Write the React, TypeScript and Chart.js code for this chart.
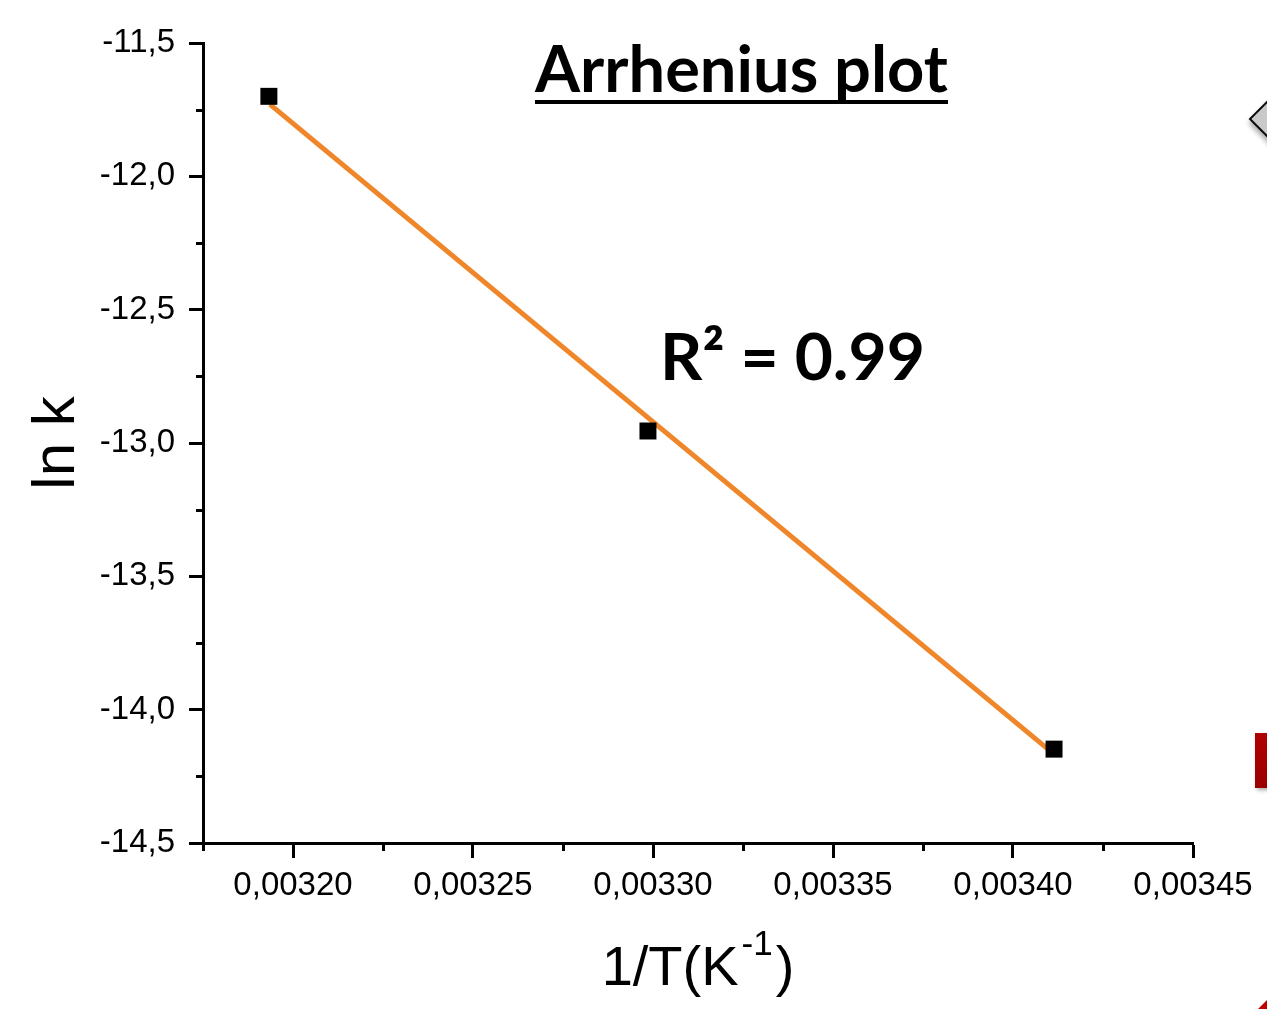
import React, { useEffect, useRef } from 'react';
import { Chart, registerables } from 'chart.js';

Chart.register(...registerables);

// ---- data ----
const invTemperature = [0.0031933, 0.0032986, 0.0034114];
const lnK = [-11.7, -12.955, -14.148];
const fitInvTemperature = [0.0031936, 0.0034108];
const fitLnK = [-11.73, -14.16];

const xTickValues = [0.0032, 0.00325, 0.0033, 0.00335, 0.0034, 0.00345];
const xTickLabels = ['0,00320', '0,00325', '0,00330', '0,00335', '0,00340', '0,00345'];
const xMinorTickValues = [0.003175, 0.003225, 0.003275, 0.003325, 0.003375, 0.003425];
const yTickValues = [-14.5, -14, -13.5, -13, -12.5, -12, -11.5];
const yTickLabels = ['-14,5', '-14,0', '-13,5', '-13,0', '-12,5', '-12,0', '-11,5'];
const yMinorTickValues = [-14.25, -13.75, -13.25, -12.75, -12.25, -11.75];

const xRange = [0.003175, 0.00345];
const yRange = [-14.5, -11.5];

const titleText = 'Arrhenius plot';
const rSquaredText = 'R² = 0.99';
const xTitleMain = '1/T(K';
const xTitleSup = '-1';
const xTitleClose = ')';
const yTitleText = 'ln k';

// ---- styles ----
const W = 1267;
const H = 1009;
const ARIAL = '"Liberation Sans", Arial, sans-serif';
const CALIBRI = 'Lato, "Open Sans", sans-serif';
const ORANGE = '#F0862A';

function fitFont(ctx: CanvasRenderingContext2D, text: string, family: string, targetWidth: number) {
  ctx.font = `bold 100px ${family}`;
  const w = ctx.measureText(text).width;
  return (100 * targetWidth) / w;
}

const overlayPlugin = {
  id: 'overlay',
  afterDraw(chart: any) {
    const { ctx, chartArea, scales } = chart;
    const xs = scales.x;
    const ys = scales.y;
    ctx.save();
    ctx.strokeStyle = '#000';
    ctx.lineWidth = 3;
    ctx.lineCap = 'butt';
    // minor ticks
    ctx.beginPath();
    xMinorTickValues.forEach((v) => {
      const px = Math.round(xs.getPixelForValue(v)) + 0.5;
      ctx.moveTo(px, chartArea.bottom);
      ctx.lineTo(px, chartArea.bottom + 8);
    });
    yMinorTickValues.forEach((v) => {
      const py = Math.round(ys.getPixelForValue(v)) + 0.5;
      ctx.moveTo(chartArea.left, py);
      ctx.lineTo(chartArea.left - 7, py);
    });
    ctx.stroke();

    ctx.fillStyle = '#000';
    ctx.textBaseline = 'alphabetic';
    ctx.textAlign = 'left';

    // title, underlined
    const tLeft = 535;
    const tWidth = 413;
    const tBase = 92;
    const tSize = fitFont(ctx, titleText, CALIBRI, tWidth);
    ctx.font = `bold ${tSize}px ${CALIBRI}`;
    ctx.fillText(titleText, tLeft, tBase);
    ctx.fillRect(tLeft, tBase + 8, tWidth, 4);

    // R squared
    const rSize = fitFont(ctx, rSquaredText, CALIBRI, 265);
    ctx.font = `bold ${rSize}px ${CALIBRI}`;
    ctx.fillText(rSquaredText, 660, 380);

    // x axis title with superscript
    const mainFont = `56px ${ARIAL}`;
    const supFont = `35px ${ARIAL}`;
    ctx.font = mainFont;
    const w1 = ctx.measureText(xTitleMain).width;
    const w3 = ctx.measureText(xTitleClose).width;
    ctx.font = supFont;
    const w2 = ctx.measureText(xTitleSup).width;
    const gap = 3;
    const total = w1 + gap + w2 + gap + w3;
    const cx = (chartArea.left + chartArea.right) / 2;
    let x = cx - total / 2;
    const base = chart.height - 24;
    ctx.font = mainFont;
    ctx.fillText(xTitleMain, x, base);
    x += w1 + gap;
    ctx.font = supFont;
    ctx.fillText(xTitleSup, x, base - 30);
    x += w2 + gap;
    ctx.font = mainFont;
    ctx.fillText(xTitleClose, x, base);
    ctx.restore();
  },
};

export default function App() {
  const canvasRef = useRef<HTMLCanvasElement | null>(null);

  useEffect(() => {
    const canvas = canvasRef.current;
    if (!canvas) return;
    const chart = new Chart(canvas, {
      type: 'scatter',
      data: {
        datasets: [
          {
            label: 'ln k',
            data: invTemperature.map((x, i) => ({ x, y: lnK[i] })),
            pointStyle: 'rect',
            pointRadius: 12,
            pointHoverRadius: 12,
            backgroundColor: '#000',
            borderColor: '#000',
            borderWidth: 0,
            showLine: false,
          },
          {
            label: 'fit',
            data: fitInvTemperature.map((x, i) => ({ x, y: fitLnK[i] })),
            showLine: true,
            borderColor: ORANGE,
            backgroundColor: ORANGE,
            borderWidth: 5,
            pointRadius: 0,
            pointHoverRadius: 0,
            fill: false,
          },
        ],
      },
      options: {
        responsive: false,
        animation: false,
        devicePixelRatio: 1,
        layout: { padding: { left: 0, top: 43, right: 74, bottom: 0 } },
        plugins: {
          legend: { display: false },
          tooltip: { enabled: false },
          title: { display: false },
        },
        scales: {
          x: {
            type: 'linear',
            min: xRange[0],
            max: xRange[1],
            afterBuildTicks: (s: any) => {
              s.ticks = xTickValues.map((v) => ({ value: v }));
            },
            afterFit: (s: any) => {
              s.height = 166;
            },
            ticks: {
              callback: (_v: any, i: number) => xTickLabels[i],
              font: { size: 33, family: ARIAL },
              color: '#000',
              padding: 8,
              maxRotation: 0,
              autoSkip: false,
            },
            grid: {
              drawOnChartArea: false,
              drawTicks: true,
              tickLength: 15,
              tickWidth: 3,
              tickColor: '#000',
            },
            border: { display: true, color: '#000', width: 3 },
            title: { display: false },
          },
          y: {
            type: 'linear',
            min: yRange[0],
            max: yRange[1],
            afterBuildTicks: (s: any) => {
              s.ticks = yTickValues.map((v) => ({ value: v }));
            },
            afterFit: (s: any) => {
              s.width = 203;
            },
            ticks: {
              callback: (_v: any, i: number) => yTickLabels[i],
              font: { size: 33, family: ARIAL },
              color: '#000',
              padding: 14,
              autoSkip: false,
            },
            grid: {
              drawOnChartArea: false,
              drawTicks: true,
              tickLength: 14,
              tickWidth: 3,
              tickColor: '#000',
            },
            border: { display: true, color: '#000', width: 3 },
            title: {
              display: true,
              text: yTitleText,
              color: '#000',
              font: { size: 60, family: ARIAL },
              padding: { top: 21, bottom: 0 },
            },
          },
        },
      },
      plugins: [overlayPlugin],
    } as any);
    return () => chart.destroy();
  }, []);

  return (
    <div
      style={{
        position: 'absolute',
        left: 0,
        top: 0,
        width: W,
        height: H,
        overflow: 'hidden',
        background: '#fff',
      }}
    >
      <canvas ref={canvasRef} width={W} height={H} style={{ display: 'block', width: W, height: H }} />
      {/* slide decorations cut off at the right edge */}
      <div
        style={{
          position: 'absolute',
          left: 1261,
          top: 89,
          width: 56,
          height: 56,
          transform: 'rotate(45deg)',
          background: '#c9c9c9',
          border: '2px solid #000',
          boxShadow: '3px 3px 5px rgba(0,0,0,0.35)',
        }}
      />
      <div
        style={{
          position: 'absolute',
          left: 1255,
          top: 733,
          width: 30,
          height: 55,
          background: 'linear-gradient(#b00000, #9a0000)',
          boxShadow: '2px 2px 4px rgba(0,0,0,0.35)',
        }}
      />
      <div
        style={{
          position: 'absolute',
          left: 1258,
          top: 1000,
          width: 9,
          height: 9,
          background: '#c00000',
          clipPath: 'polygon(0 100%, 100% 0, 100% 100%)',
        }}
      />
    </div>
  );
}
